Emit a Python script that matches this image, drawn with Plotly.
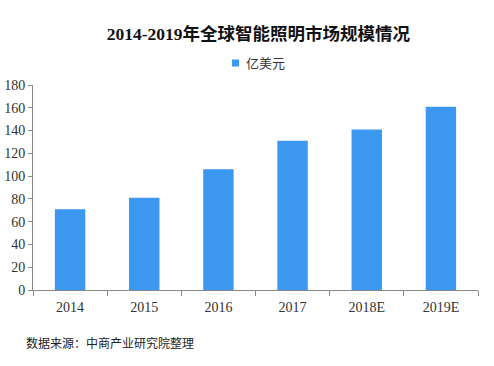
import plotly.graph_objects as go

categories = ["2014", "2015", "2016", "2017", "2018E", "2019E"]
values = [71, 81, 106, 131, 141, 161]
series_name = "亿美元"
title_text = "2014-2019年全球智能照明市场规模情况"
source_text = "数据来源：中商产业研究院整理"
y_ticks = [0, 20, 40, 60, 80, 100, 120, 140, 160, 180]

BAR_COLOR = "#3c97f0"
FONT = "'Liberation Serif', 'Noto Sans CJK SC', serif"

fig = go.Figure()
fig.add_trace(go.Bar(
    x=categories, y=values, name=series_name,
    marker=dict(color=BAR_COLOR, line=dict(width=0)),
    showlegend=False,
))

fig.update_layout(
    width=494, height=366,
    margin=dict(l=33, r=16, t=85, b=76, autoexpand=False),
    paper_bgcolor="white", plot_bgcolor="white",
    bargap=0.59,
    font=dict(family=FONT, color="#333333", size=14),
    title=dict(text="<b>" + title_text + "</b>", x=0.523, xanchor="center",
               y=0.907, yanchor="middle",
               font=dict(family=FONT, size=17.5, color="#111111")),
    showlegend=False,
)

fig.update_xaxes(
    showline=True, linecolor="#888888", linewidth=1,
    ticks="outside", tickson="boundaries", ticklen=5, tickcolor="#888888",
    ticklabelstandoff=4,
    showgrid=False, zeroline=False, automargin=False,
    tickfont=dict(family=FONT, size=14, color="#333333"),
)
fig.update_yaxes(
    range=[0, 180], tickvals=y_ticks,
    showline=True, linecolor="#888888", linewidth=1,
    ticks="outside", ticklen=4, tickcolor="#888888",
    showgrid=False, zeroline=False, automargin=False,
    tickfont=dict(family=FONT, size=14, color="#333333"),
)

# legend drawn manually (small square + label)
fig.add_shape(type="rect", xref="paper", yref="paper",
              x0=(232 - 33) / 445, x1=(239 - 33) / 445,
              y0=(290 - 66.5) / 205, y1=(290 - 59.5) / 205,
              fillcolor=BAR_COLOR, line=dict(width=0))
fig.add_annotation(
    text=series_name, xref="paper", yref="paper",
    x=(244 - 33) / 445, xanchor="left", y=(290 - 63) / 205, yanchor="middle",
    showarrow=False,
    font=dict(family="'Noto Sans CJK SC', sans-serif", size=13, color="#333333"),
)

fig.add_annotation(
    text=source_text, xref="paper", yref="paper",
    x=(24 - 33) / 445, xanchor="left", y=(290 - 342) / 205, yanchor="middle",
    showarrow=False,
    font=dict(family="'Noto Sans CJK SC', sans-serif", size=12, color="#222222"),
)

fig.write_html("out.html", post_script="document.body.style.margin='0';",
               config={"displayModeBar": False})
